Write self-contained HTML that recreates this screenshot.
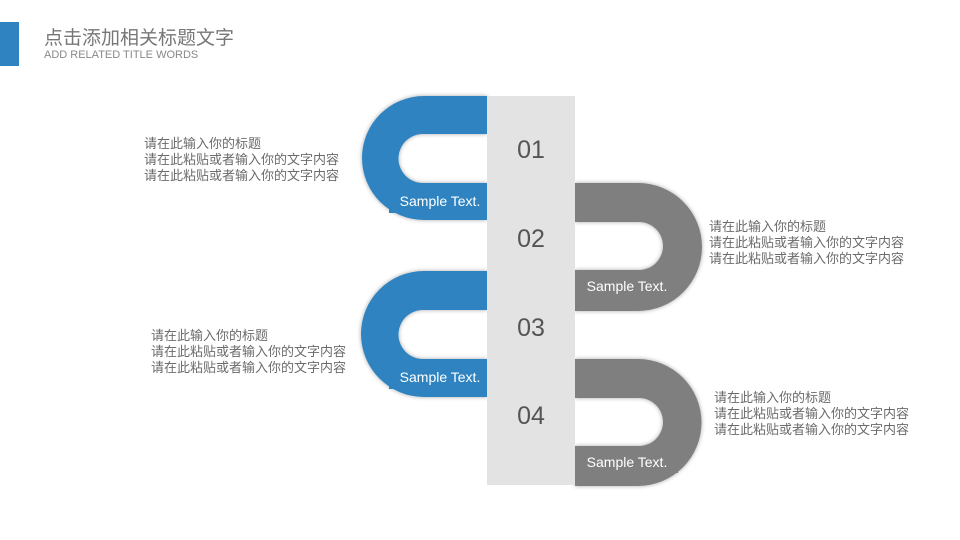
<!DOCTYPE html>
<html><head><meta charset="utf-8"><style>
body{margin:0;width:960px;height:540px;background:#fff;overflow:hidden;position:relative;font-family:"Liberation Sans","Noto Sans CJK SC",sans-serif}
.t{position:absolute;font-size:13px;line-height:16px;color:#6b6b6b;white-space:nowrap}
</style></head><body>
<div style="position:absolute;left:0;top:22px;width:19px;height:44px;background:#2e83c0"></div>
<div style="position:absolute;left:44px;top:27px;font-size:19px;line-height:24px;color:#777;white-space:nowrap">点击添加相关标题文字</div>
<div style="position:absolute;left:44px;top:49px;font-size:11px;line-height:13px;color:#888;white-space:nowrap">ADD RELATED TITLE WORDS</div>
<svg width="960" height="540" style="position:absolute;left:0;top:0">
<defs><filter id="s" x="-20%" y="-20%" width="140%" height="140%"><feDropShadow dx="0" dy="0" stdDeviation="2" flood-color="#000" flood-opacity="0.35"/></filter></defs>
<g filter="url(#s)">
<path fill="#2e83c0" fill-rule="evenodd" d="M487,96H424A62,62 0 0 0 424,220H487ZM487,134H423A24.5,24.5 0 0 0 423,183H487Z"/>
<path fill="#2e83c0" fill-rule="evenodd" d="M487,271H424A63,63 0 0 0 424,397H487ZM487,310H423A24.5,24.5 0 0 0 423,359H487Z"/>
<path fill="#7f7f7f" fill-rule="evenodd" d="M575,183H638A64,64 0 0 1 638,311H575ZM575,222H639A24,24 0 0 1 639,270H575Z"/>
<path fill="#7f7f7f" fill-rule="evenodd" d="M575,359H638A63.5,63.5 0 0 1 638,486H575ZM575,398H639A24,24 0 0 1 639,446H575Z"/>
</g>
<rect x="389" y="187" width="100" height="26" fill="#2e83c0"/>
<rect x="389" y="363" width="100" height="26" fill="#2e83c0"/>
<rect x="575" y="271" width="103" height="26" fill="#7f7f7f"/>
<rect x="575" y="447" width="103" height="26" fill="#7f7f7f"/>
<rect x="487" y="96" width="88" height="389" fill="#e3e3e3"/>
<g font-family="Liberation Sans,sans-serif" font-size="25" fill="#555" text-anchor="middle">
<text x="531" y="158">01</text><text x="531" y="247">02</text><text x="531" y="336">03</text><text x="531" y="424">04</text>
</g>
<g font-family="Liberation Sans,sans-serif" font-size="14" fill="#fff" text-anchor="middle">
<text x="440" y="206">Sample Text.</text><text x="440" y="382">Sample Text.</text>
<text x="627" y="291">Sample Text.</text><text x="627" y="467">Sample Text.</text>
</g>
</svg>
<div class="t" style="left:144px;top:136px">请在此输入你的标题<br>请在此粘贴或者输入你的文字内容<br>请在此粘贴或者输入你的文字内容</div>
<div class="t" style="left:709px;top:219px">请在此输入你的标题<br>请在此粘贴或者输入你的文字内容<br>请在此粘贴或者输入你的文字内容</div>
<div class="t" style="left:151px;top:328px">请在此输入你的标题<br>请在此粘贴或者输入你的文字内容<br>请在此粘贴或者输入你的文字内容</div>
<div class="t" style="left:714px;top:390px">请在此输入你的标题<br>请在此粘贴或者输入你的文字内容<br>请在此粘贴或者输入你的文字内容</div>
</body></html>
